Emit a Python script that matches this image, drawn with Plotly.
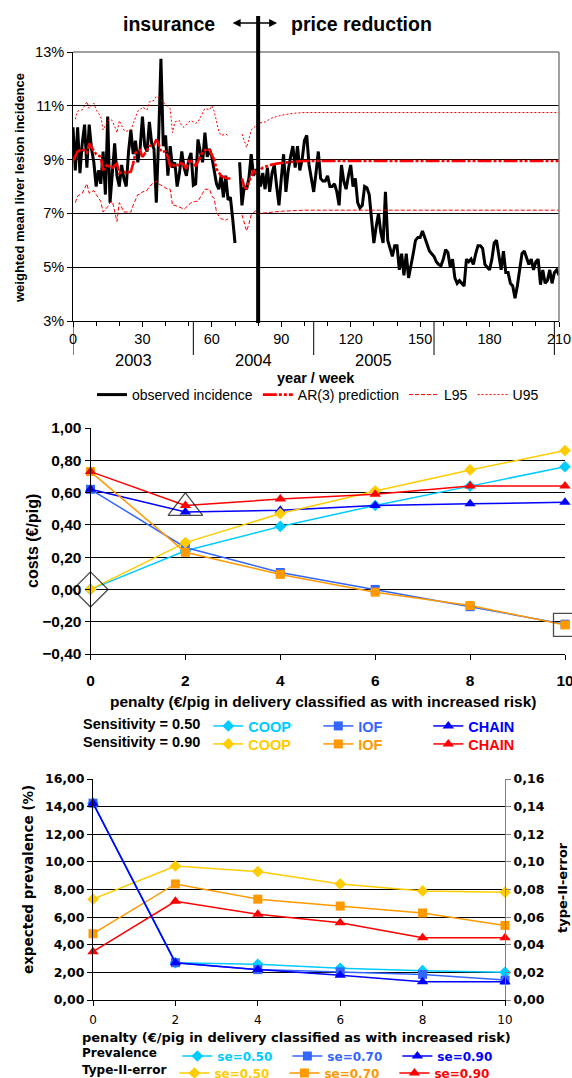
import plotly.graph_objects as go

W, H = 572, 1078

# ---------------- Panel 1: weekly liver lesion incidence ----------------
weeks = list(range(0, 211))
observed = [
    10.2, 8.6, 10.2, 8.5, 9.6, 10.3, 8.7, 10.3, 9.4, 8.9,
    8.0, 8.6, 8.1, 9.3, 7.7, 10.6, 7.4, 8.6, 9.6, 8.4,
    8.0, 8.8, 8.3, 8.0, 9.3, 10.1, 9.2, 9.7, 8.9, 9.4,
    10.6, 9.5, 9.3, 10.4, 9.6, 9.4, 7.4, 9.8, 12.75, 9.5,
    9.9, 8.4, 9.5, 8.7, 8.9, 8.0, 8.5, 9.3, 8.7, 8.4,
    9.0, 9.25, 8.05, 8.1, 9.75, 9.3, 8.9, 10.0, 9.1, 9.4,
    9.1, 8.6, 8.1, 7.9, 8.4, 7.6, 8.4, 7.5, 7.6, 6.8,
    5.9, None, 8.9, 7.3, 8.0, 7.9, 8.3, 9.2, 8.4, 8.6,
    8.6, 8.0, 8.5, 7.9, 8.7, 7.8, 8.5, 8.8, 8.0, 7.3,
    8.3, 9.2, 7.8, 8.6, 9.1, 9.5, 8.7, 9.5, 8.6, 9.0,
    9.7, 9.9, 8.8, 8.3, 7.8, 8.5, 9.3, 8.3, 8.2, 8.2,
    8.4, 8.0, 8.0, 8.1, 7.8, 7.3, 8.8, 8.2, 7.9, 8.4,
    8.8, 8.0, 8.3, 7.4, 7.2, 7.3, 8.0, 7.95, 7.7, 6.8,
    5.9, 6.5, 7.0, 6.3, 5.9, 7.8, 6.0, 5.7, 5.4, 5.8,
    5.8, 4.9, 5.5, 4.7, 5.5, 4.6, 5.0, 5.5, 6.0, 6.1,
    6.1, 6.35, 6.1, 5.8, 5.6, 5.5, 5.4, 5.2, 5.1, 5.05,
    5.3, 5.65, 5.55, 5.0, 5.3, 4.6, 4.4, 4.5, 4.4, 4.3,
    5.3, 5.2, 5.3, 5.1, 5.5, 5.8, 5.8, 5.7, 5.1, 5.0,
    4.9, 5.3, 5.9, 6.0, 5.4, 4.9, 5.6, 4.8, 4.8, 4.4,
    4.3, 3.85, 4.3, 4.9, 5.5, 5.6, 5.3, 5.1, 5.3, 4.9,
    5.2, 5.3, 4.35, 4.9, 4.4, 4.5, 4.9, 4.4, 4.8, 4.9,
    4.7,
]

pred_weeks = [0, 2, 4, 6, 7, 9, 10, 12, 13, 15, 16, 17, 19, 20, 22, 23, 25, 26, 27, 29,
              30, 32, 33, 35, 36, 37, 38, 40, 41, 42, 43, 45, 46, 48, 49, 50, 52, 53, 55, 56,
              58, 59, 61, 62, 64, 65, 67, 68, 70, 73, 74, 75, 76, 77, 78, 79, 80, 82, 85, 88,
              92, 96, 100, 210]
pred_vals = [8.95, 9.3, 9.4, 9.25, 9.6, 9.35, 9.2, 9.1, 8.6, 8.85, 8.7, 8.7, 8.85, 8.5, 8.55, 8.5, 8.55, 8.85, 9.25, 9.35,
             9.1, 9.35, 9.5, 9.55, 9.75, 9.6, 9.3, 9.3, 9.1, 8.75, 8.8, 8.75, 8.9, 8.8, 8.65, 9.0, 8.9, 8.75, 9.15, 9.3,
             9.4, 9.35, 9.0, 8.65, 8.4, 8.35, 8.3, 8.3, None, 8.3, 8.0, 7.9, 8.2, 8.35, 8.6, 8.5, 8.55, 8.7, 8.8, 8.85,
             8.9, 8.93, 8.95, 8.95]

u95_weeks = [1, 2, 4, 6, 7, 9, 10, 12, 13, 15, 16, 17, 19, 20, 22, 23, 25, 26, 28, 29,
             30, 32, 33, 35, 36, 37, 41, 42, 43, 44, 46, 47, 48, 50, 51, 53, 54, 56, 57, 59,
             60, 61, 62, 63, 64, 66, 67, 70, 73, 74, 75, 76, 77, 79, 80, 83, 86, 90, 95, 100, 210]
u95_vals = [10.5, 10.8, 10.85, 11.15, 10.9, 11.1, 10.85, 10.6, 10.1, 10.45, 10.5, 10.45, 10.0, 10.45, 10.1, 10.05, 10.1, 10.35, 10.8, 10.85,
            10.95, 10.85, 11.15, 11.2, 11.35, 11.3, 11.0, 10.9, 10.0, 10.4, 10.45, 10.25, 10.2, 10.4, 10.45, 10.35, 10.4, 10.75, 10.9, 10.85,
            11.0, 10.8, 10.45, 10.05, 9.9, 9.95, 9.9, None, 9.95, 9.65, 9.45, 9.75, 10.1, 10.25, 10.35, 10.4, 10.55, 10.65, 10.72, 10.75, 10.75]

l95_weeks = [1, 2, 4, 6, 7, 9, 10, 12, 13, 15, 16, 17, 19, 20, 22, 23, 25, 26, 28, 29,
             30, 32, 33, 35, 36, 37, 41, 42, 43, 44, 46, 47, 48, 50, 51, 53, 54, 56, 57, 59,
             60, 61, 62, 63, 64, 66, 67, 70, 73, 74, 75, 76, 77, 79, 80, 83, 86, 90, 95, 100, 210]
l95_vals = [7.4, 7.65, 7.75, 8.1, 7.75, 7.85, 7.7, 7.45, 7.05, 7.25, 7.4, 7.45, 6.7, 7.4, 7.05, 7.05, 7.05, 7.3, 7.7, 7.7,
            7.8, 7.85, 8.0, 8.15, 8.2, 8.1, 7.9, 7.9, 7.3, 7.3, 7.25, 7.2, 7.15, 7.3, 7.4, 7.45, 7.45, 7.75, 7.9, 7.9,
            7.65, 7.55, 7.05, 6.9, 6.8, 6.75, 6.8, None, 6.95, 6.6, 6.35, 6.6, 6.95, 7.1, 7.0, 7.02, 7.05, 7.08, 7.1, 7.12, 7.12]

y1_ticks = [3, 5, 7, 9, 11, 13]
y1_ticktext = ["3%", "5%", "7%", "9%", "11%", "13%"]
year_labels = ["2003", "2004", "2005"]
year_bounds = [0, 52, 104, 156, 208]
intervention_week = 80

# ---------------- Panel 2: costs ----------------
penalty = [0, 2, 4, 6, 8, 10]
coop_50 = [0.00, 0.24, 0.39, 0.52, 0.64, 0.76]
iof_50 = [0.62, 0.26, 0.105, 0.00, -0.107, -0.215]
chain_50 = [0.62, 0.48, 0.49, 0.52, 0.53, 0.54]
coop_90 = [0.00, 0.29, 0.47, 0.61, 0.74, 0.86]
iof_90 = [0.73, 0.23, 0.093, -0.017, -0.10, -0.22]
chain_90 = [0.73, 0.52, 0.56, 0.59, 0.64, 0.64]
optimum_x = [0, 2, 10]
optimum_y = [0.00, 0.505, -0.22]

# ---------------- Panel 3: prevalence and type-II error ----------------
prev_50 = [14.25, 2.7, 2.58, 2.29, 2.12, 2.0]
prev_70 = [14.25, 2.7, 2.2, 2.04, 1.85, 1.44]
prev_90 = [14.25, 2.7, 2.2, 1.8, 1.32, 1.32]
t2_50 = [0.073, 0.097, 0.093, 0.084, 0.079, 0.078]
t2_70 = [0.048, 0.084, 0.073, 0.068, 0.063, 0.054]
t2_90 = [0.035, 0.0715, 0.062, 0.056, 0.045, 0.045]

C_COOP50, C_IOF50, C_CHAIN50 = "#00CCFF", "#3366FF", "#0000FF"
C_COOP90, C_IOF90, C_CHAIN90 = "#FFCC00", "#FF9900", "#FF0000"

def py(p):
    return 1 - p / H

def pxx(p):
    return p / W

ARIAL = "Liberation Sans, Arial, sans-serif"
DEJA = "DejaVu Sans, Verdana, sans-serif"

fig = go.Figure()

# Panel 1 traces
fig.add_trace(go.Scatter(x=weeks, y=observed, mode="lines", name="observed incidence",
                         line=dict(color="black", width=3), xaxis="x", yaxis="y", legend="legend"))
fig.add_trace(go.Scatter(x=pred_weeks, y=pred_vals, mode="lines", name="AR(3) prediction",
                         line=dict(color="#FF0000", width=2.6, dash="14px,2px,3px,2px,3px,2px"),
                         xaxis="x", yaxis="y", legend="legend"))
fig.add_trace(go.Scatter(x=l95_weeks, y=l95_vals, mode="lines", name="L95",
                         line=dict(color="#FF0000", width=1, dash="4px,2px"),
                         xaxis="x", yaxis="y", legend="legend"))
fig.add_trace(go.Scatter(x=u95_weeks, y=u95_vals, mode="lines", name="U95",
                         line=dict(color="#FF0000", width=1, dash="2px,2px"),
                         xaxis="x", yaxis="y", legend="legend"))

# Panel 2 traces
def span(txt, col):
    return "<span style='color:%s'>%s</span>" % (col, txt)

p2 = [
    (coop_50, C_COOP50, "diamond", "COOP", "legend2", 9),
    (iof_50, C_IOF50, "square", "IOF", "legend2", 9),
    (chain_50, C_CHAIN50, "triangle-up", "CHAIN", "legend2", 10),
    (coop_90, C_COOP90, "diamond", "COOP", "legend3", 9),
    (iof_90, C_IOF90, "square", "IOF", "legend3", 9),
    (chain_90, C_CHAIN90, "triangle-up", "CHAIN", "legend3", 10),
]
for vals, col, sym, nm, lg, ms in p2:
    fig.add_trace(go.Scatter(x=penalty, y=vals, mode="lines+markers", name=span(nm, col),
                             line=dict(color=col, width=1.5), cliponaxis=False,
                             marker=dict(symbol=sym, size=ms, color=col),
                             xaxis="x2", yaxis="y2", legend=lg))
fig.add_trace(go.Scatter(x=optimum_x, y=optimum_y, mode="markers", showlegend=False, cliponaxis=False,
                         marker=dict(symbol=["diamond-open", "triangle-up-open", "square-open"],
                                     size=[27, 30, 23], color="black", line=dict(width=1.3)),
                         xaxis="x2", yaxis="y2"))

# Panel 3 traces: type-II error (right axis, base) then prevalence (left, overlay -> on top)
p3b = [
    (t2_50, C_COOP90, "diamond", "se=0.50", 9),
    (t2_70, C_IOF90, "square", "se=0.70", 9),
    (t2_90, C_CHAIN90, "triangle-up", "se=0.90", 10),
]
for vals, col, sym, nm, ms in p3b:
    fig.add_trace(go.Scatter(x=penalty, y=vals, mode="lines+markers", name=span(nm, col),
                             line=dict(color=col, width=1.5), cliponaxis=False,
                             marker=dict(symbol=sym, size=ms, color=col),
                             xaxis="x3", yaxis="y3", legend="legend5"))
p3a = [
    (prev_50, C_COOP50, "diamond", "se=0.50", 9),
    (prev_70, C_IOF50, "square", "se=0.70", 9),
    (prev_90, C_CHAIN50, "triangle-up", "se=0.90", 10),
]
for vals, col, sym, nm, ms in p3a:
    fig.add_trace(go.Scatter(x=penalty, y=vals, mode="lines+markers", name=span(nm, col),
                             line=dict(color=col, width=1.5), cliponaxis=False,
                             marker=dict(symbol=sym, size=ms, color=col),
                             xaxis="x3", yaxis="y4", legend="legend4"))

# ---------------- layout ----------------
d1x = [pxx(73), pxx(559)]
d1y = [py(321), py(52)]
d2x = [pxx(90.5), pxx(565)]
d2y = [py(654), py(428)]
d3x = [pxx(93), pxx(505)]
d3y = [py(1000), py(779)]

tick_common = dict(ticks="outside", ticklen=5, tickcolor="black", showline=True,
                   linecolor="black", linewidth=1, zeroline=False)

fig.update_layout(
    width=W, height=H,
    margin=dict(l=0, r=0, t=0, b=0, autoexpand=False),
    paper_bgcolor="white", plot_bgcolor="white",
    separators=", ",
    xaxis=dict(domain=d1x, anchor="y", range=[0, 210], tickvals=list(range(0, 211, 30)),
               minor=dict(dtick=10, ticks="outside", ticklen=4, tickcolor="black"),
               showgrid=False, ticklabeloverflow="allow",
               tickfont=dict(family=ARIAL, size=14.5, color="black"),
               **tick_common),
    yaxis=dict(domain=d1y, anchor="x", range=[3, 13], tickvals=y1_ticks, ticktext=y1_ticktext,
               showgrid=True, gridcolor="black", gridwidth=1,
               tickfont=dict(family=ARIAL, size=14.5, color="black"), **tick_common),
    xaxis2=dict(domain=d2x, anchor="y2", range=[0, 10], tickvals=penalty, showgrid=False,
                ticklabeloverflow="allow", ticklabelstandoff=7,
                tickfont=dict(family=ARIAL, size=15.5, color="black", weight="bold"),
                **tick_common),
    yaxis2=dict(domain=d2y, anchor="x2", range=[-0.4, 1.0], dtick=0.2, tickformat=".2f",
                showgrid=True, gridcolor="black", gridwidth=1,
                tickfont=dict(family=ARIAL, size=15.5, color="black", weight="bold"),
                **tick_common),
    xaxis3=dict(domain=d3x, anchor="y3", range=[0, 10], tickvals=penalty, showgrid=False,
                ticklabeloverflow="allow", ticklabelstandoff=4,
                tickfont=dict(family=DEJA, size=12, color="black"), **tick_common),
    yaxis3=dict(domain=d3y, anchor="x3", side="right", range=[0, 0.16], dtick=0.02,
                tickformat=".2f", showgrid=True, gridcolor="black", gridwidth=1,
                ticks="outside", ticklen=5, tickcolor="#808080", showline=True,
                linecolor="#808080", linewidth=1, zeroline=False,
                tickfont=dict(family=DEJA, size=12.5, color="black", weight="bold")),
    yaxis4=dict(overlaying="y3", anchor="x3", side="left", range=[0, 16], dtick=2,
                tickformat=".2f", showgrid=False,
                tickfont=dict(family=DEJA, size=12.5, color="black", weight="bold"),
                **tick_common),
)

leg_base = dict(orientation="h", bgcolor="rgba(0,0,0,0)", borderwidth=0,
                xanchor="left", yanchor="middle", itemwidth=30, tracegroupgap=0)

fig.update_layout(
    legend=dict(leg_base, x=pxx(318), xanchor="center", y=py(395),
                font=dict(family=ARIAL, size=14, color="black")),
    legend2=dict(leg_base, x=pxx(81), y=py(726), entrywidth=65, entrywidthmode="pixels",
                 font=dict(family=ARIAL, size=14.5, color="black", weight="bold"),
                 title=dict(text="Sensitivity = 0.50", side="left",
                            font=dict(family=ARIAL, size=14.5, color="black", weight="bold"))),
    legend3=dict(leg_base, x=pxx(81), y=py(744), entrywidth=65, entrywidthmode="pixels",
                 font=dict(family=ARIAL, size=14.5, color="black", weight="bold"),
                 title=dict(text="Sensitivity = 0.90", side="left",
                            font=dict(family=ARIAL, size=14.5, color="black", weight="bold"))),
    legend4=dict(leg_base, x=pxx(80), y=py(1056), entrywidth=65, entrywidthmode="pixels",
                 font=dict(family=DEJA, size=12, color="black", weight="bold"),
                 title=dict(text="Prevalence&nbsp;&nbsp;&nbsp;", side="left",
                            font=dict(family=DEJA, size=12, color="black", weight="bold"))),
    legend5=dict(leg_base, x=pxx(80), y=py(1073), entrywidth=65, entrywidthmode="pixels",
                 font=dict(family=DEJA, size=12, color="black", weight="bold"),
                 title=dict(text="Type-II-error", side="left",
                            font=dict(family=DEJA, size=12, color="black", weight="bold"))),
)

shapes = []
# gray top / right frame of panel 1
shapes.append(dict(type="line", xref="paper", yref="paper", x0=d1x[0], x1=d1x[1], y0=d1y[1], y1=d1y[1],
                   line=dict(color="#808080", width=1.5)))
shapes.append(dict(type="line", xref="paper", yref="paper", x0=d1x[1], x1=d1x[1], y0=d1y[0], y1=d1y[1],
                   line=dict(color="#808080", width=1.5)))
# year category dividers below axis
for b in year_bounds:
    shapes.append(dict(type="line", xref="x", yref="paper", x0=b, x1=b, y0=py(321), y1=py(355),
                       line=dict(color="black", width=1)))
# intervention line
shapes.append(dict(type="line", xref="x", yref="paper", x0=intervention_week, x1=intervention_week,
                   y0=py(323), y1=py(16), line=dict(color="black", width=4)))
fig.update_layout(shapes=shapes)

C = dict(xanchor="center", yanchor="middle", showarrow=False)
ann = []
for i, lab in enumerate(year_labels):
    ann.append(dict(C, text=lab, xref="x", yref="paper", x=(year_bounds[i] + year_bounds[i + 1]) / 2,
                    y=py(360), font=dict(family=ARIAL, size=16.5, color="black")))
ann.append(dict(C, text="<b>year / week</b>", xref="paper", yref="paper", x=pxx(316), y=py(378),
                font=dict(family=ARIAL, size=14.5, color="black")))
ann.append(dict(C, text="<b>weighted mean liver lesion incidence</b>", xref="paper", yref="paper",
                x=pxx(20), y=py(188), textangle=-90,
                font=dict(family=ARIAL, size=13, color="black")))
ann.append(dict(C, text="<b>insurance</b>", xref="x", yref="paper", x=intervention_week,
                y=py(24), font=dict(family=ARIAL, size=19.5, color="black")))
ann[-1]["xanchor"] = "right"
ann[-1]["xshift"] = -41
ann.append(dict(C, text="<b>price reduction</b>", xref="x", yref="paper", x=intervention_week,
                y=py(24), font=dict(family=ARIAL, size=19.5, color="black")))
ann[-1]["xanchor"] = "left"
ann[-1]["xshift"] = 31
ann.append(dict(text="", xref="x", yref="paper", x=intervention_week, xshift=19, y=py(23),
                ax=-46, ay=0, axref="pixel", ayref="pixel", showarrow=True, arrowside="end+start",
                arrowhead=2, startarrowhead=2, arrowsize=1, startarrowsize=1, arrowwidth=1.6,
                arrowcolor="black"))
# panel 2 titles
ann.append(dict(C, text="<b>penalty (€/pig in delivery classified as with increased risk)</b>",
                xref="paper", yref="paper", x=pxx(323), y=py(701),
                font=dict(family=ARIAL, size=15.5, color="black")))
ann.append(dict(C, text="<b>costs (€/pig)</b>", xref="paper", yref="paper", x=pxx(32), y=py(541),
                textangle=-90, font=dict(family=ARIAL, size=16, color="black")))
# panel 3 titles
ann.append(dict(C, text="<b>penalty (€/pig in delivery classified as with increased risk)</b>",
                xref="paper", yref="paper", x=pxx(296), y=py(1037),
                font=dict(family=DEJA, size=13, color="black")))
ann.append(dict(C, text="<b>expected prevalence (%)</b>", xref="paper", yref="paper", x=pxx(28), y=py(880),
                textangle=-90, font=dict(family=DEJA, size=13.5, color="black")))
ann.append(dict(C, text="<b>type-II-error</b>", xref="paper", yref="paper", x=pxx(562), y=py(888),
                textangle=-90, font=dict(family=DEJA, size=13, color="black")))
fig.update_layout(annotations=ann)

fig.write_html("out.html")
